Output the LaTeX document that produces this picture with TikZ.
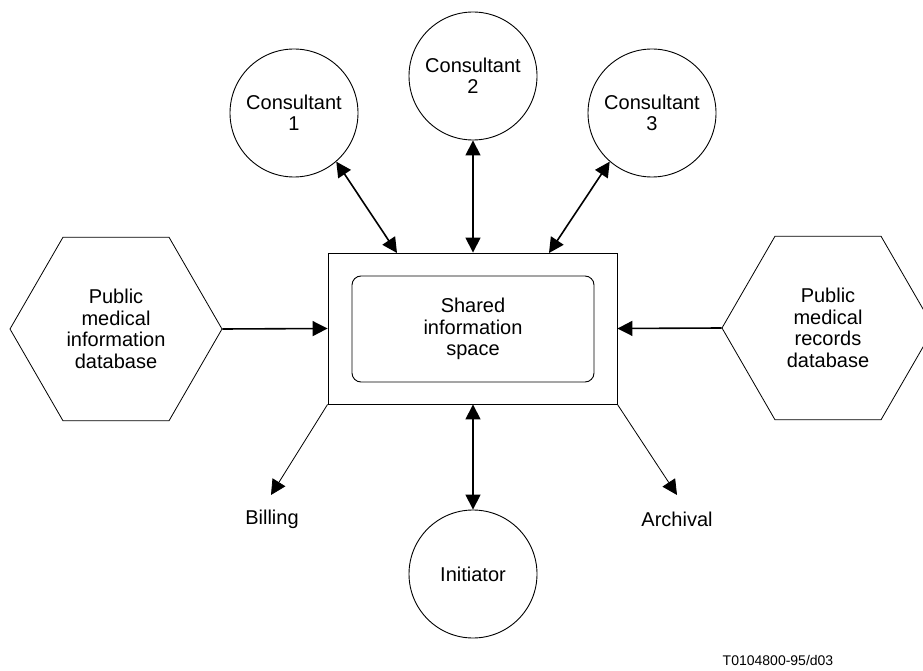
\documentclass[tikz,border=0pt]{standalone}
\usepackage{fontspec}
\setmainfont{Liberation Sans}
\usetikzlibrary{arrows.meta,shapes.geometric,calc}
\begin{document}
\begin{tikzpicture}[x=1pt,y=-1pt,
  lbl/.style={font=\fontsize{20}{21.5}\selectfont, align=center},
  consult/.style={circle, draw, line width=0.9pt, minimum size=128pt, inner sep=0pt, lbl},
  hexa/.style={regular polygon, regular polygon sides=6, draw, line width=0.8pt,
               minimum size=212pt, inner sep=0pt, lbl},
  tip/.tip={Triangle[length=15pt,width=15pt]},
  link/.style={line width=1.6pt, -tip},
  both/.style={line width=1.6pt, tip-tip},
  feed/.style={line width=0.8pt, -tip}
]
\useasboundingbox (0,0) rectangle (923,671);
\clip (0,0) rectangle (923,671);

% central shared space
\node[draw, line width=0.9pt, minimum width=289pt, minimum height=151pt] (box) at (472.5,328.5) {};
\node[draw, rounded corners=9pt, line width=0.9pt, minimum width=242pt, minimum height=106pt, lbl]
  (inner) at (473,329) {Shared\\information\\space};

% participants
\node[consult] (c1) at (294,113) {Consultant\\1};
\node[consult] (c2) at (473,76) {Consultant\\2};
\node[consult] (c3) at (652,113) {Consultant\\3};
\node[consult] (ini) at (473,574) {Initiator};

% databases
\node[hexa] (hl) at (116,329) {Public\\medical\\information\\database};
\node[hexa] (hr) at (828,328) {Public\\medical\\records\\database};

% outputs
\node[lbl] (bill) at (272,519) {Billing};
\node[lbl] (arch) at (677,519) {Archival};
\coordinate (bt) at (271,495);
\coordinate (at) at (677,495);

% connectors
\coordinate (t1) at (397,253);
\coordinate (t3) at (549,253);
\draw[both] (c1.-49) -- (t1);
\draw[both] (c2.south) -- (c2.south |- box.north);
\draw[both] (c3.-131) -- (t3);
\draw[both] (ini.north |- box.south) -- (ini.north);
\draw[link] (hl.east) -- (box.west);
\draw[link] (hr.west) -- (box.east);
\draw[feed] (box.south west) -- (bt);
\draw[feed] (box.south east) -- (at);

\node[font=\fontsize{14}{16}\selectfont] (code) at (778,660) {T0104800-95/d03};
\end{tikzpicture}
\end{document}
